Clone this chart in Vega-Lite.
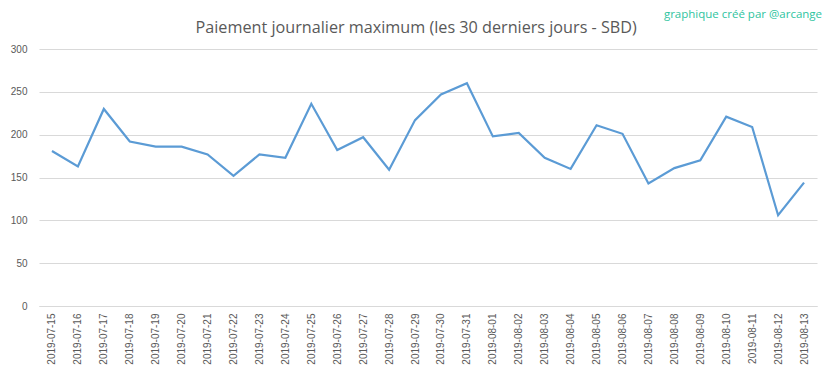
{
  "$schema": "https://vega.github.io/schema/vega-lite/v6.json",
  "autosize": {"type": "none"},
  "width": 778,
  "height": 257,
  "padding": {"left": 39, "top": 49, "right": 16, "bottom": 73},
  "background": "white",
  "config": {"view": {"stroke": null}, "font": "Liberation Sans"},
  "title": {
    "text": "Paiement journalier maximum (les 30 derniers jours - SBD)",
    "fontSize": 16.2,
    "fontWeight": "normal",
    "color": "#595959",
    "anchor": "middle",
    "frame": "bounds",
    "offset": 14,
    "dy": 41,
    "font": "Open Sans"
  },
  "data": {"values": [
    {"date": "2019-07-15", "sbd": 181},
    {"date": "2019-07-16", "sbd": 163},
    {"date": "2019-07-17", "sbd": 230},
    {"date": "2019-07-18", "sbd": 192},
    {"date": "2019-07-19", "sbd": 186},
    {"date": "2019-07-20", "sbd": 186},
    {"date": "2019-07-21", "sbd": 177},
    {"date": "2019-07-22", "sbd": 152},
    {"date": "2019-07-23", "sbd": 177},
    {"date": "2019-07-24", "sbd": 173},
    {"date": "2019-07-25", "sbd": 236},
    {"date": "2019-07-26", "sbd": 182},
    {"date": "2019-07-27", "sbd": 197},
    {"date": "2019-07-28", "sbd": 159},
    {"date": "2019-07-29", "sbd": 217},
    {"date": "2019-07-30", "sbd": 247},
    {"date": "2019-07-31", "sbd": 260},
    {"date": "2019-08-01", "sbd": 198},
    {"date": "2019-08-02", "sbd": 202},
    {"date": "2019-08-03", "sbd": 173},
    {"date": "2019-08-04", "sbd": 160},
    {"date": "2019-08-05", "sbd": 211},
    {"date": "2019-08-06", "sbd": 201},
    {"date": "2019-08-07", "sbd": 143},
    {"date": "2019-08-08", "sbd": 161},
    {"date": "2019-08-09", "sbd": 170},
    {"date": "2019-08-10", "sbd": 221},
    {"date": "2019-08-11", "sbd": 209},
    {"date": "2019-08-12", "sbd": 106},
    {"date": "2019-08-13", "sbd": 144}
  ]},
  "encoding": {
    "x": {
      "field": "date",
      "type": "ordinal",
      "scale": {"type": "point", "padding": 0.5},
      "axis": {
        "title": null,
        "labelAngle": -90,
        "labelFontSize": 10,
        "labelColor": "#595959",
        "labelPadding": 7,
        "ticks": false,
        "domainColor": "#d9d9d9",
        "domainWidth": 1,
        "grid": false
      }
    },
    "y": {
      "field": "sbd",
      "type": "quantitative",
      "scale": {"domain": [0, 300], "nice": false},
      "axis": {
        "title": null,
        "values": [0, 50, 100, 150, 200, 250, 300],
        "labelFontSize": 10,
        "labelColor": "#595959",
        "labelPadding": 12,
        "ticks": false,
        "domain": false,
        "gridColor": "#d9d9d9",
        "gridWidth": 1
      }
    }
  },
  "layer": [
    {
      "mark": {"type": "line", "color": "#5b9bd5", "strokeWidth": 2.2}
    },
    {
      "data": {"values": [{"label": "graphique créé par @arcange", "date": "2019-08-13", "sbd": 340}]},
      "mark": {"type": "text", "align": "right", "baseline": "middle", "dx": 18, "fontSize": 11.5, "color": "#2ec4a0", "font": "Open Sans", "clip": false},
      "encoding": {
        "text": {"field": "label"}
      }
    }
  ]
}
